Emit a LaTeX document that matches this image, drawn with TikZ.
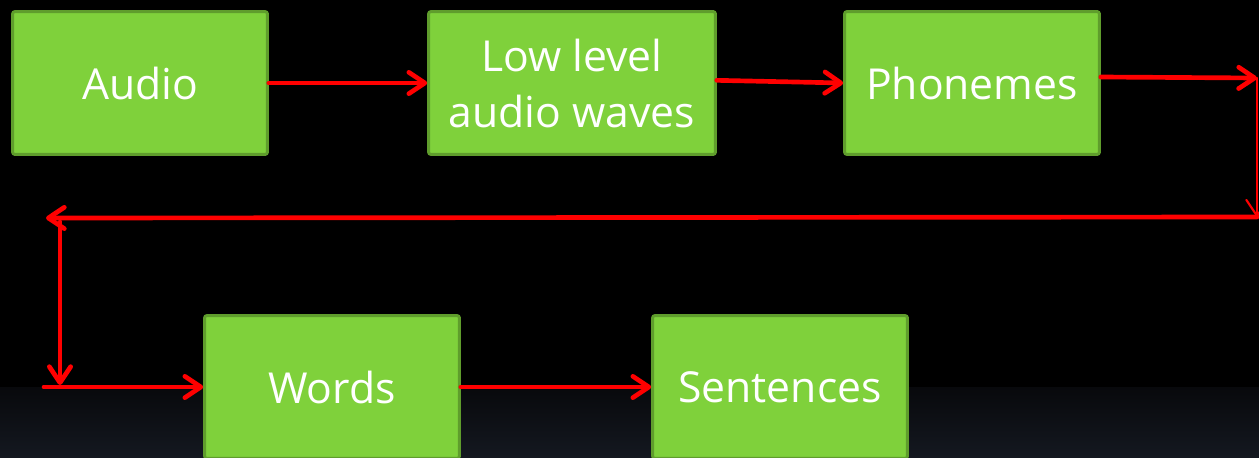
\documentclass[tikz,border=0pt]{standalone}
\usepackage{fontspec}
\setmainfont{Open Sans}
\usetikzlibrary{arrows.meta}
\definecolor{boxgreen}{RGB}{127,209,59}
\definecolor{boxedge}{RGB}{95,157,44}
\definecolor{flowred}{RGB}{255,0,0}
\definecolor{slidetop}{RGB}{8,9,12}
\definecolor{slidebot}{RGB}{20,24,32}
\tikzset{%
  tipA/.tip={Straight Barb[length=12pt,width=16pt,round]},
  stage/.style={draw=boxedge, fill=boxgreen, line width=2.2pt, rounded corners=1.5pt,
    minimum width=191pt, minimum height=107pt, inner sep=0pt, text=white,
    font=\fontsize{32}{42}\selectfont, align=center},
  flow/.style={flowred, line width=3.5pt, line cap=round, line join=round, -tipA}
}

\begin{document}
\begin{tikzpicture}[x=0.75pt,y=-0.75pt]
\useasboundingbox (0,0) rectangle (1259,457);
\clip (0,0) rectangle (1259,457);
\fill[black] (0,0) rectangle (1259,457);
\shade[top color=slidetop, bottom color=slidebot] (0,387) rectangle (1259,457);
% stages
\node[stage] (audio) at (140,83) {Audio};
\node[stage, minimum width=215pt] (waves) at (572,83) {Low level\\audio waves};
\node[stage] (phonemes) at (972,83) {Phonemes};
\node[stage] (words) at (332,387) {Words};
\node[stage] (sentences) at (780,387) {Sentences};
% bends of the return path
\coordinate (ne) at (1257,78);
\coordinate (se) at (1257,217);
\coordinate (sw) at (46,218);
\coordinate (drop) at (60,222);
\coordinate (bend) at (60,385);
\coordinate (feed) at (44,387);
\draw[flow] (audio.east) -- (waves.west);
\draw[flow] ([yshift=2pt]waves.east) -- (phonemes.west);
\draw[flow] ([yshift=4.5pt]phonemes.east) -- (ne);
\draw[flow, line width=1.6pt] (ne) -- (se);
\draw[flow] (se) -- (sw);
\draw[flow] (drop) -- (bend);
\draw[flow] (feed) -- (words.west);
\draw[flow] (words.east) -- (sentences.west);
\end{tikzpicture}
\end{document}
